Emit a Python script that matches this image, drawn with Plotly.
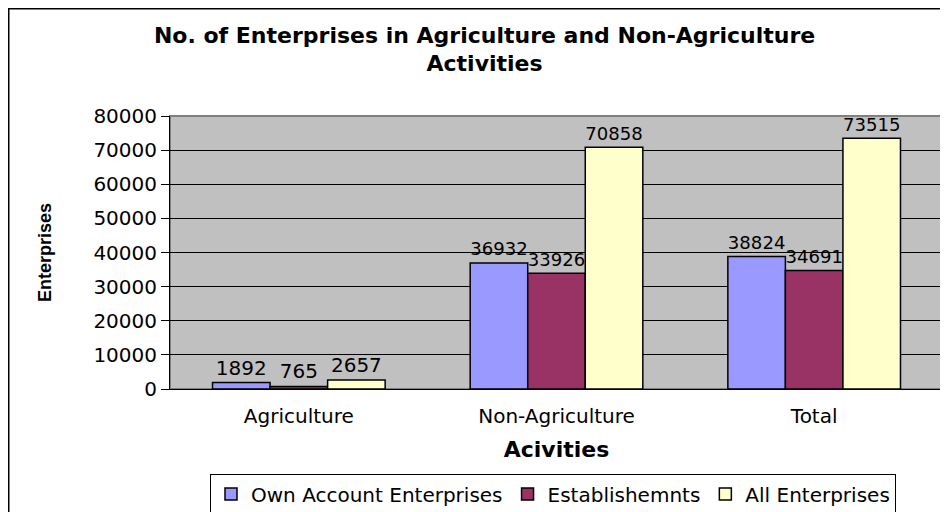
import plotly.graph_objects as go

# data
categories = ["Agriculture", "Non-Agriculture", "Total"]
own_account = [1892, 36932, 38824]
establishments = [765, 33926, 34691]
all_enterprises = [2657, 70858, 73515]

# the page has an 8px body margin, so the figure fills the rest of the window
W, H = 940, 504
L, R, T, B = 162, 5, 108, 123
pw = W - L - R
ph = H - T - B

FONT = "DejaVu Sans"


def px_x(x):
    return (x - L) / pw


def px_y(y):
    return (H - B - y) / ph


series = [
    ("Own Account Enterprises", own_account, "#9999FF"),
    ("Establishemnts", establishments, "#993366"),
    ("All Enterprises", all_enterprises, "#FFFFCC"),
]

fig = go.Figure()
for name, vals, col in series:
    fig.add_trace(go.Bar(
        x=categories, y=vals, name=name,
        marker=dict(color=col, line=dict(color="black", width=1.5)),
        text=[str(v) for v in vals], textposition="outside",
        textfont=dict(size=20, color="black", family=FONT),
        cliponaxis=False,
    ))

fig.update_layout(
    width=W, height=H,
    margin=dict(l=L, r=R, t=T, b=B, autoexpand=False),
    paper_bgcolor="white",
    plot_bgcolor="#C0C0C0",
    font=dict(family=FONT, size=20, color="black"),
    barmode="group", bargap=0.33, bargroupgap=0,
    title=dict(
        text="<b>No. of Enterprises in Agriculture and Non-Agriculture<br>Activities</b>",
        x=0.507, xanchor="center", y=0.931, yanchor="middle",
        font=dict(size=22, family=FONT), automargin=False,
    ),
    legend=dict(
        orientation="h", x=px_x(545), xanchor="center",
        y=px_y(486), yanchor="middle",
        bordercolor="black", borderwidth=1,
        font=dict(size=20, family=FONT), tracegroupgap=0,
    ),
    showlegend=True,
)

fig.update_yaxes(
    range=[0, 80000], dtick=10000, tickformat="d",
    showgrid=True, gridcolor="black", gridwidth=1,
    ticks="outside", ticklen=8, tickcolor="black",
    showline=True, linecolor="black", linewidth=1,
    zeroline=False, automargin=False,
    title=dict(text="<b>Enterprises</b>", font=dict(size=18, family="Arial, Liberation Sans"),
               standoff=37),
)
fig.update_xaxes(
    showline=True, linecolor="black", linewidth=1,
    ticks="", showgrid=False, automargin=False, ticklabelstandoff=9,
    title=dict(text="<b>Acivities</b>", font=dict(size=22, family=FONT), standoff=14),
)

# gray border on top/right of plot area
fig.add_shape(type="rect", xref="paper", yref="paper", x0=0, x1=1, y0=0, y1=1,
              line=dict(color="#808080", width=2), layer="below")
# outer chart border
fig.add_shape(type="rect", xref="paper", yref="paper",
              x0=px_x(0), x1=px_x(960), y0=px_y(520), y1=px_y(0),
              line=dict(color="black", width=3))

fig.write_html("out.html")
